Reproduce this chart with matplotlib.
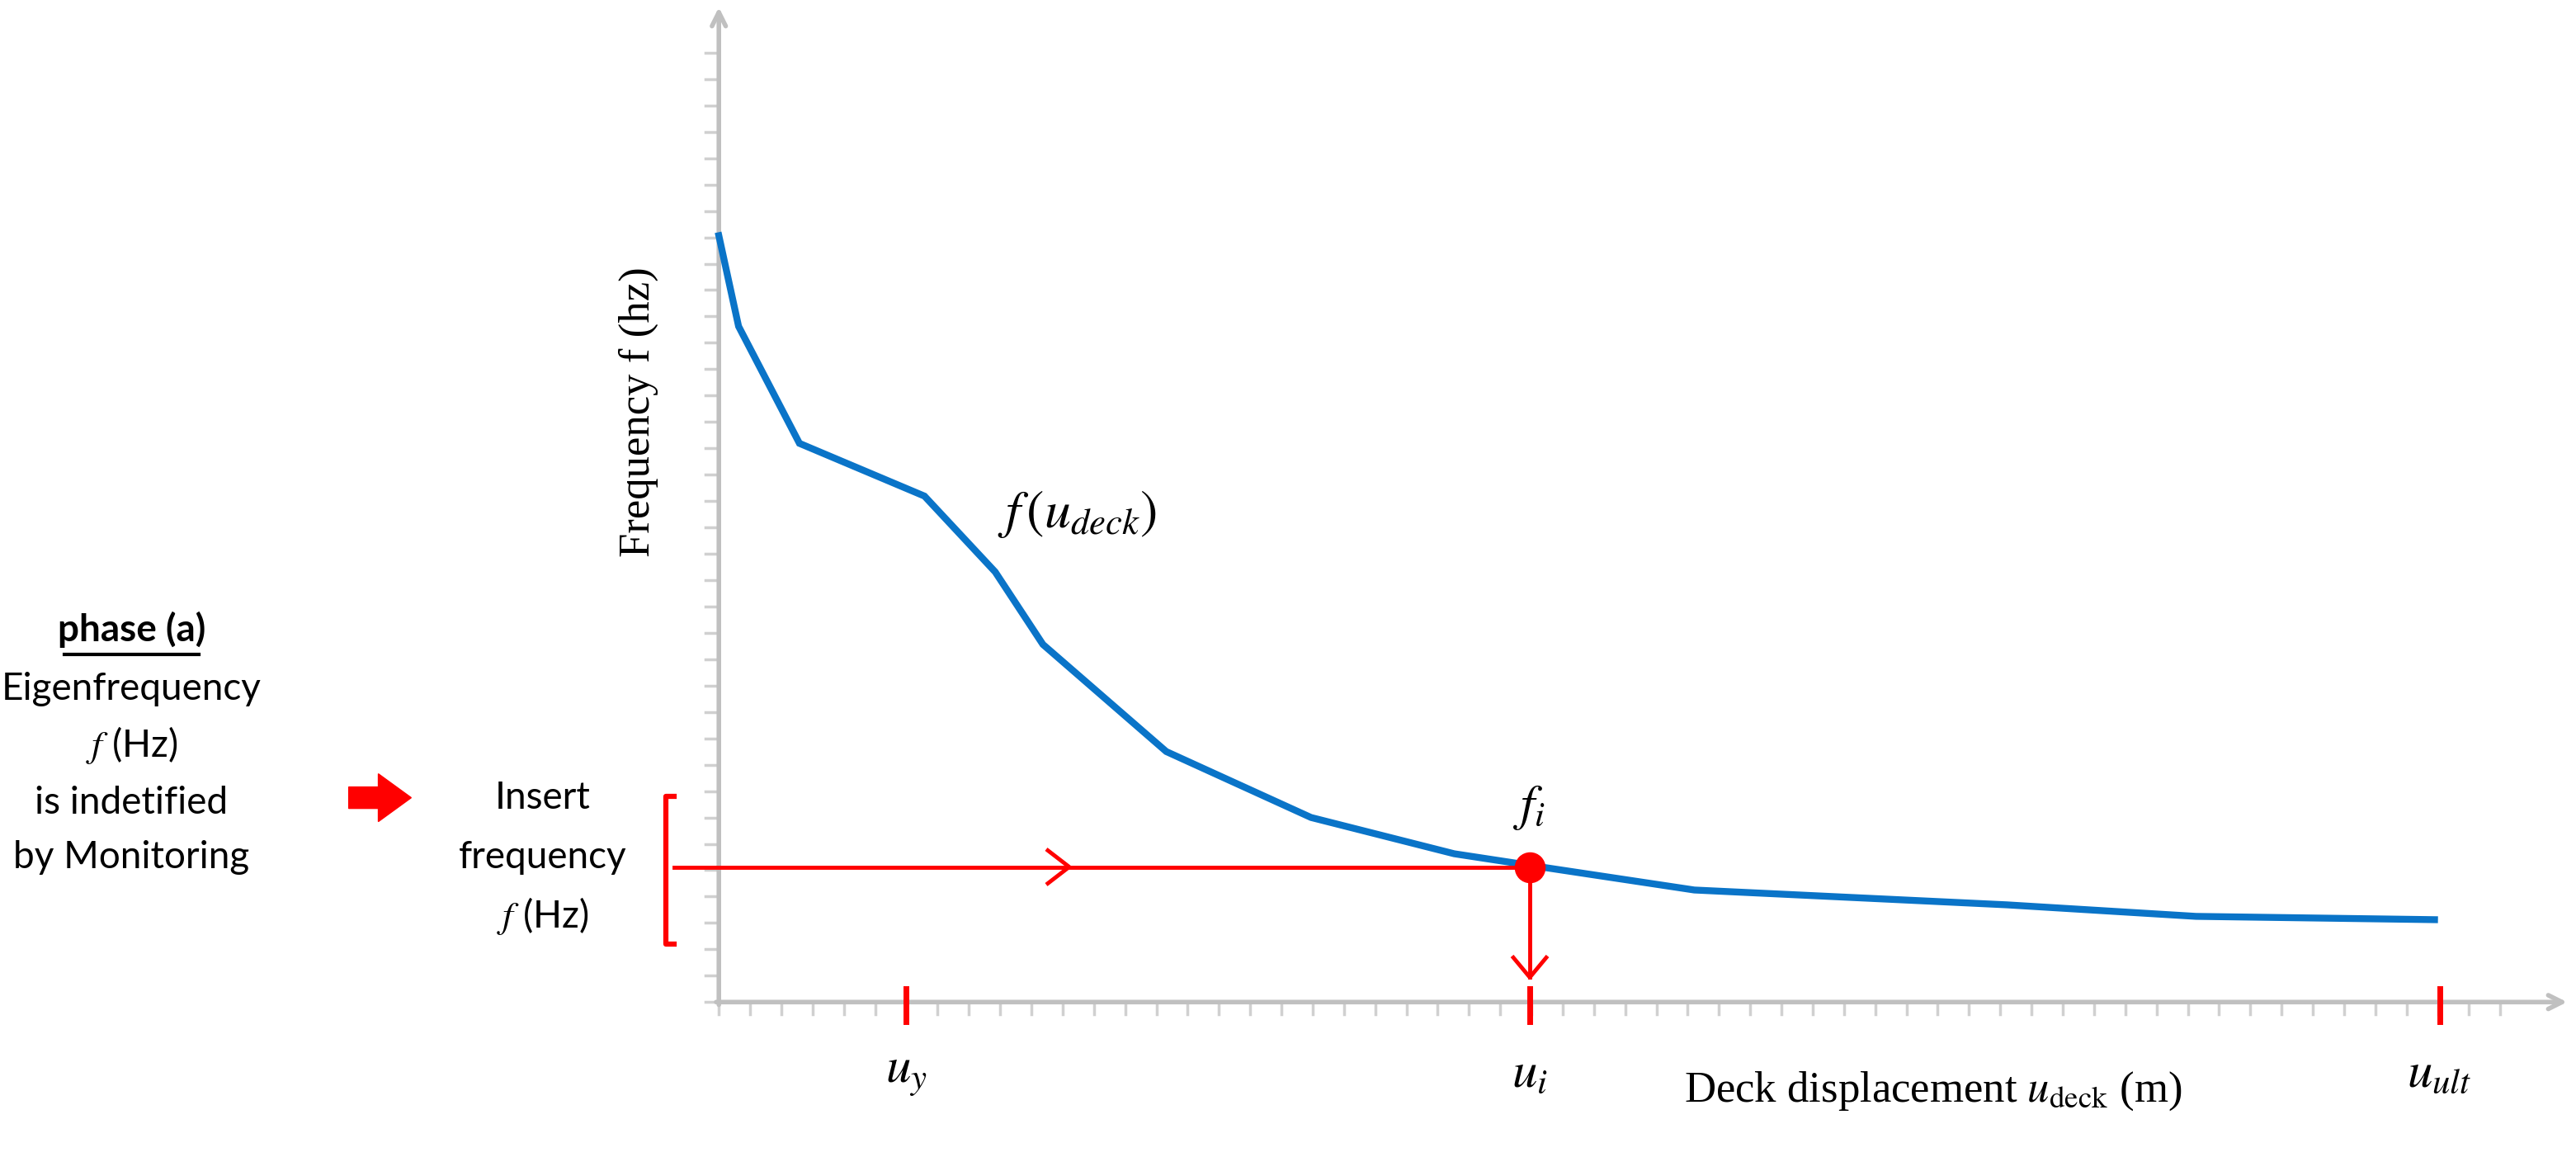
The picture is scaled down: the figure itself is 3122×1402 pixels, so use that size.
import matplotlib
matplotlib.use("Agg")
import matplotlib.pyplot as plt
import numpy as np
from matplotlib.patches import FancyArrow

plt.rcParams['mathtext.fontset'] = 'stix'

# Data (x: deck displacement units, y: frequency units)
disp = [0.0, 0.12, 0.49, 1.25, 1.68, 1.97, 2.72, 3.60, 4.47, 4.93, 5.93, 7.83, 8.98, 10.43]
freq = [4.65, 4.10, 3.39, 3.07, 2.61, 2.17, 1.52, 1.12, 0.90, 0.83, 0.68, 0.59, 0.52, 0.50]
u_y, u_i, u_ult = 1.14, 4.93, 10.46
f_i = 0.82
x_tick_labels = [r'$u_y$', r'$u_i$', r'$u_{ult}$']

fig = plt.figure(figsize=(31.22, 14.02), dpi=100)
ax = fig.add_axes([0, 0, 1, 1])
ax.set_xlim(-4.37, 11.29)
ax.set_ylim(-0.94, 6.08)
ax.axis('off')

grey = '#c0c0c0'
red = '#ff0000'
blue = '#0a74c8'

# axes with arrows
ax.annotate('', xy=(11.25, 0), xytext=(-0.03, 0),
            arrowprops=dict(arrowstyle='->,head_length=1.2,head_width=0.6', color=grey, lw=4))
ax.annotate('', xy=(0, 6.05), xytext=(0, -0.03),
            arrowprops=dict(arrowstyle='->,head_length=1.2,head_width=0.6', color=grey, lw=4))
for xt in np.arange(0, 11.0, 0.19):
    ax.plot([xt, xt], [0, -0.075], color='#d0d0d0', lw=2.5)
for yt in np.arange(0, 5.85, 0.16):
    ax.plot([0, -0.08], [yt, yt], color='#d0d0d0', lw=2.5)

# curve
ax.plot(disp, freq, color=blue, lw=6, solid_joinstyle='miter', zorder=3)

# red annotations
for xv in [u_y, u_i, u_ult]:
    ax.plot([xv, xv], [0.08, -0.12], color=red, lw=5, zorder=4)
ax.plot([-0.27, u_i], [f_i, f_i], color=red, lw=3.5, zorder=4)
ax.plot([2.0, 2.13, 2.0], [0.92, f_i, 0.72], color=red, lw=3.5, zorder=4)
ax.plot([u_i, u_i], [f_i, 0.15], color=red, lw=3.5, zorder=4)
ax.plot([u_i - 0.1, u_i, u_i + 0.1], [0.27, 0.15, 0.27], color=red, lw=3.5, zorder=4)
ax.plot([u_i], [f_i], 'o', color=red, ms=26, zorder=5)
ax.plot([-0.27, -0.32, -0.32, -0.27], [1.25, 1.25, 0.35, 0.35], color=red, lw=4.5)
ax.add_patch(FancyArrow(-2.25, 1.24, 0.38, 0, width=0.13, head_width=0.29,
                        head_length=0.2, color=red, length_includes_head=True))

# texts
sans = 'Lato'
fs = 33
ax.text(-3.57, 2.26, 'phase (a)', ha='center', va='center', fontsize=fs, fontweight='bold', family=sans)
ax.plot([-3.98, -3.16], [2.11, 2.11], color='black', lw=3)
ax.text(-3.57, 1.90, 'Eigenfrequency', ha='center', va='center', fontsize=fs, family=sans)
ax.text(-3.57, 1.56, r'$f$ (Hz)', ha='center', va='center', fontsize=fs, family=sans)
ax.text(-3.57, 1.21, 'is indetified', ha='center', va='center', fontsize=fs, family=sans)
ax.text(-3.57, 0.88, 'by Monitoring', ha='center', va='center', fontsize=fs, family=sans)
ax.text(-1.07, 1.24, 'Insert', ha='center', va='center', fontsize=fs, family=sans)
ax.text(-1.07, 0.88, 'frequency', ha='center', va='center', fontsize=fs, family=sans)
ax.text(-1.07, 0.52, r'$f$ (Hz)', ha='center', va='center', fontsize=fs, family=sans)

ax.text(-0.49, 3.58, r'Frequency f (hz)', rotation=90, ha='center', va='center',
        fontsize=38, family='Liberation Serif')
ax.text(7.38, -0.54, r'Deck displacement $u_{\mathrm{deck}}$ (m)', ha='center', va='center',
        fontsize=38, family='Liberation Serif')
for xv, lab in zip([u_y, u_i, u_ult], x_tick_labels):
    ax.text(xv, -0.43, lab, ha='center', va='center', fontsize=44)
ax.text(2.18, 2.96, r'$f\,(u_{deck})$', ha='center', va='center', fontsize=46)
ax.text(u_i, 1.18, r'$f_i$', ha='center', va='center', fontsize=44)

fig.savefig('out.png', dpi=100, facecolor='white')
